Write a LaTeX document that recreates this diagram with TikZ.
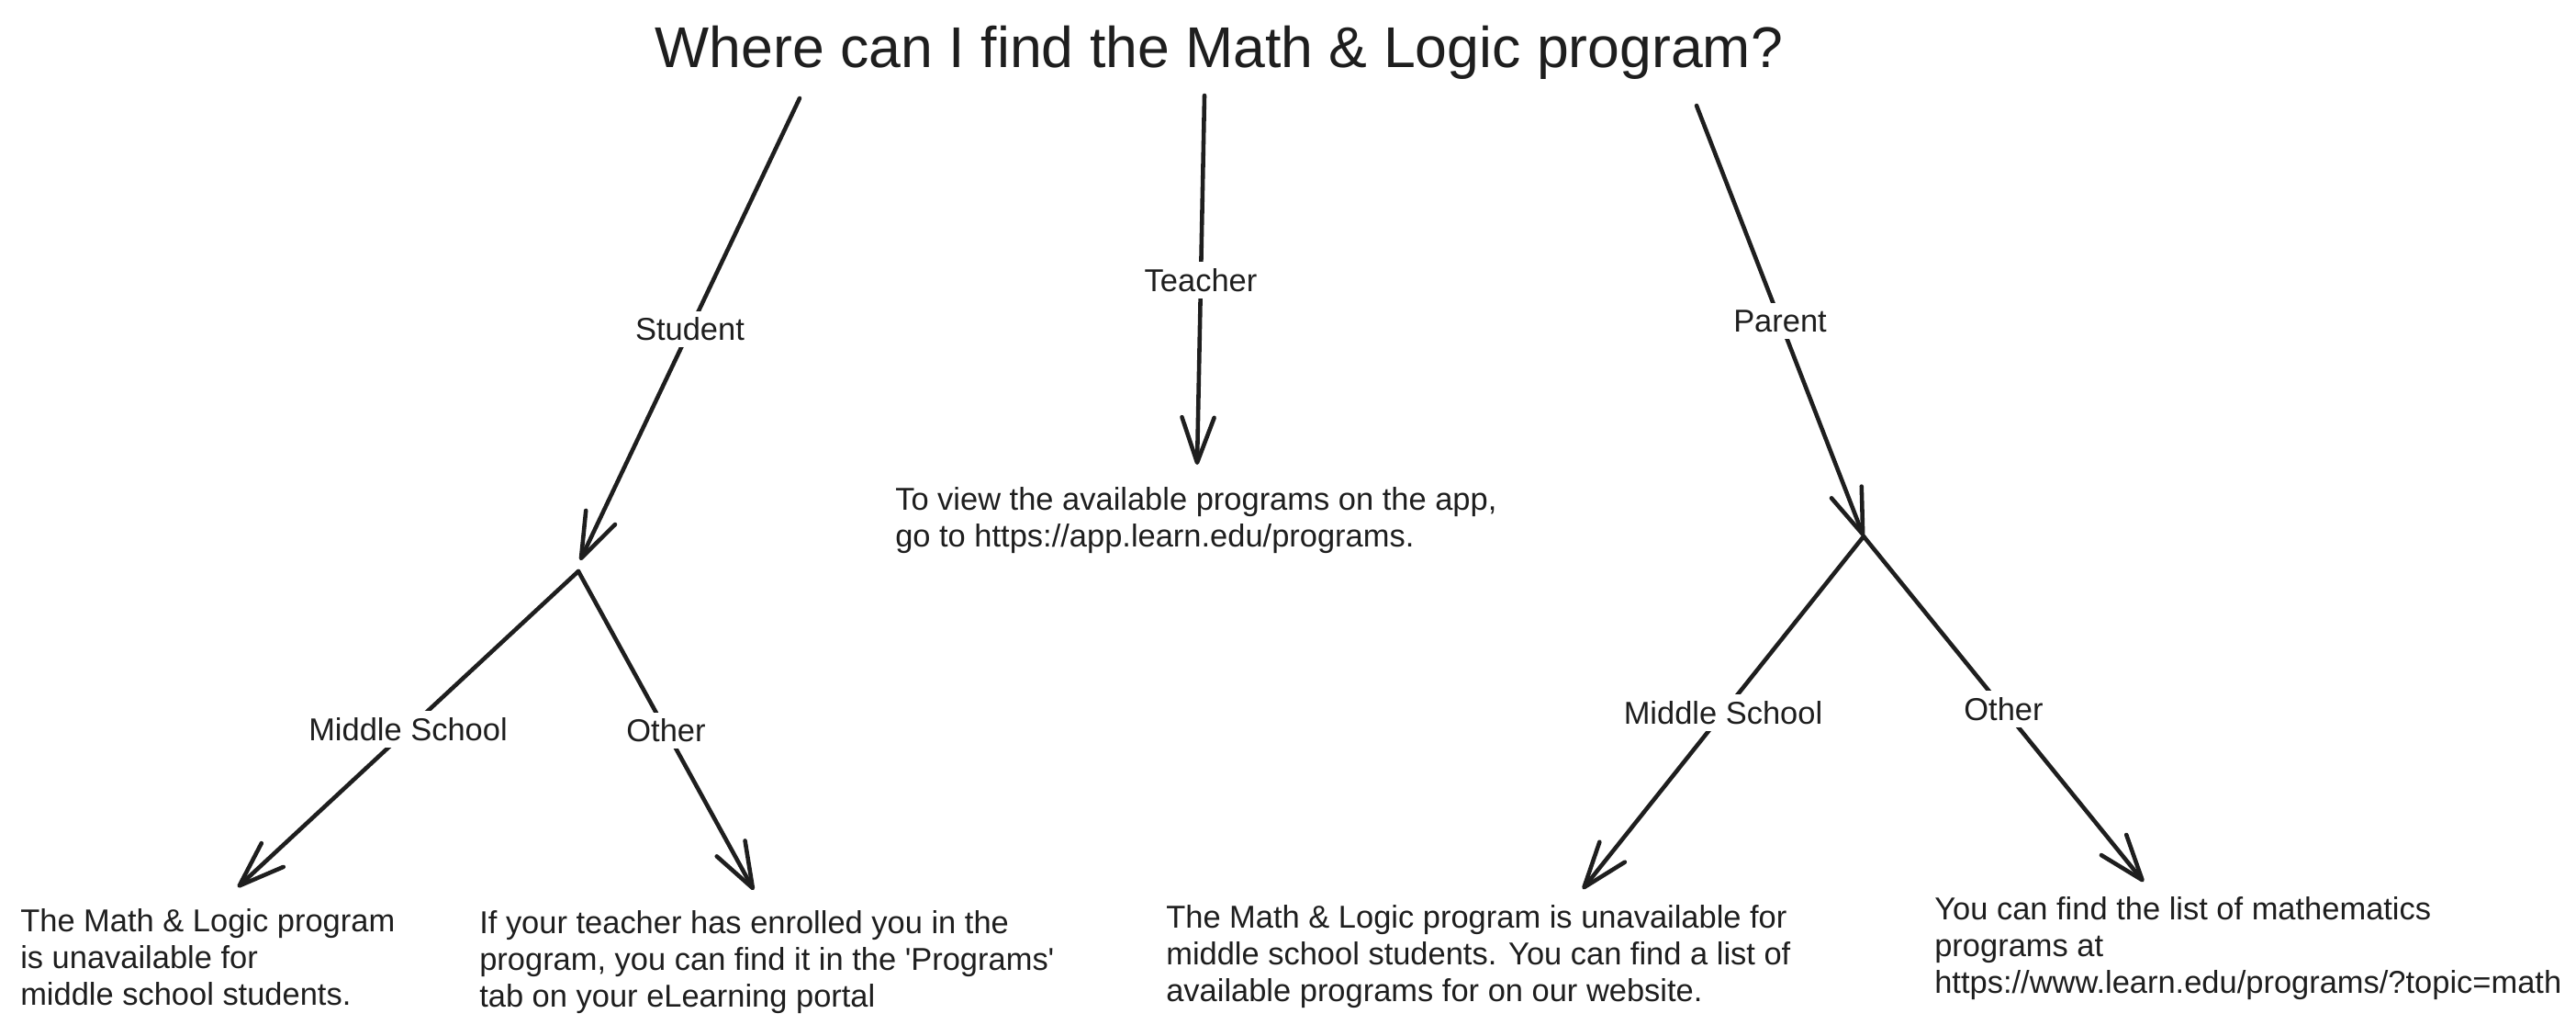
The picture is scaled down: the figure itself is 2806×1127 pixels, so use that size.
\documentclass[tikz,border=0pt]{standalone}
\usepackage{fontspec}
\setmainfont{Liberation Sans}
\usetikzlibrary{arrows.meta}

\definecolor{ink}{HTML}{1E1E1E}

\begin{document}
\begin{tikzpicture}[x=0.01cm, y=-0.01cm, color=ink, line width=1.3pt, line cap=round,
    pick/.style={-{Straight Barb[length=14pt, width=10pt, round]}},
    choice/.style={fill=white, inner sep=2pt, font=\fontsize{9.8}{12}\selectfont},
    answer/.style={anchor=north west, align=left, inner sep=0pt, font=\fontsize{9.8}{11.4}\selectfont}]

\useasboundingbox (0,0) rectangle (2806,1127);

% Question
\node[anchor=base, font=\fontsize{17.8}{20}\selectfont] (question) at (1328,73)
    {Where can I find the Math \& Logic program?};

% Arrow ends
\coordinate (studentstart) at (871,107);
\coordinate (studenttip) at (632,610);
\coordinate (studentfork) at (630,622);
\coordinate (teacherstart) at (1312,104);
\coordinate (teachertip) at (1304,506);
\coordinate (parentstart) at (1848,115);
\coordinate (parentfork) at (2030,584);
\coordinate (studentmstip) at (259,966);
\coordinate (studentothertip) at (821,969);
\coordinate (parentmstip) at (1724,968);
\coordinate (parentothertip) at (2335,960);

% Answers
\node[answer] (teacherinfo) at (973,528)
    {To view the available programs on the app,\\
     go to https://app.learn.edu/programs.};
\node[answer] (studentms) at (20,987)
    {The Math \& Logic program\\
     is unavailable for\\
     middle school students.};
\node[answer] (studentother) at (520,989)
    {If your teacher has enrolled you in the\\
     program, you can find it in the \textquotesingle Programs\textquotesingle\\
     tab on your eLearning portal};
\node[answer] (parentms) at (1268,983)
    {The Math \& Logic program is unavailable for\\
     middle school students. You can find a list of\\
     available programs for on our website.};
\node[answer] (parentother) at (2105,974)
    {You can find the list of mathematics\\
     programs at\\
     https://www.learn.edu/programs/?topic=math};

% First choice
\draw[pick] (studentstart) -- node[choice] (student) {Student} (studenttip);
\draw[pick] (teacherstart) -- node[choice] (teacher) {Teacher} (teachertip);
\draw[pick] (parentstart) -- node[choice] (parent) {Parent} (parentfork);

% Second choice
\draw[pick] (studentfork) -- node[choice] (studentmiddle) {Middle School} (studentmstip);
\draw[pick] (studentfork) -- node[choice] (studentrest) {Other} (studentothertip);
\draw[pick] (parentfork) -- node[choice] (parentmiddle) {Middle School} (parentmstip);
\draw[pick] (parentfork) -- node[choice] (parentrest) {Other} (parentothertip);

\end{tikzpicture}
\end{document}
